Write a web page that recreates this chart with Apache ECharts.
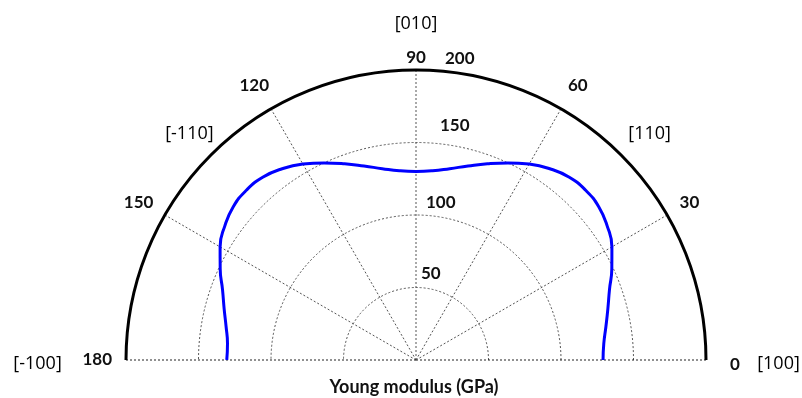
<!DOCTYPE html>
<html>
<head>
<meta charset="utf-8">
<script src="https://cdn.jsdelivr.net/npm/echarts@6/dist/echarts.min.js"></script>
<style>
  html, body { margin: 0; padding: 0; background: #fff; }
  #main { width: 802px; height: 398px; }
</style>
</head>
<body>
<div id="main"></div>
<script>
// 角度（度）
var angles = [0, 5, 10, 15, 20, 25, 30, 35, 40, 45, 50, 55, 60, 65, 70, 75, 80, 85, 90,
              95, 100, 105, 110, 115, 120, 125, 130, 135, 140, 145, 150, 155, 160, 165, 170, 175, 180];
// 杨氏模量 (GPa)
var modulus = [129, 130, 133, 137, 142, 149, 156, 161, 164.5, 165.5, 164.5, 161, 156, 150, 144, 138.5, 134, 131, 130,
               131, 134, 138.5, 144, 150, 156, 161, 164.5, 165.5, 164.5, 161, 156, 149, 142, 137, 133, 130.5, 130.5];
// 晶向标注
var dirNames = ['[100]', '[110]', '[010]', '[-110]', '[-100]'];
var dirAngles = [-0.6, 44, 90, 135, 180.6];
var dirRadius = [250, 224, 232, 221, 261];

var FONT = 'Lato';

var curveData = angles.map(function (a, i) { return [modulus[i], a]; });
var dirData = dirNames.map(function (n, i) { return [dirRadius[i], dirAngles[i], n]; });

// 标签微调（padding: 上 右 下 左）
function numStyle(pad) {
    return { padding: pad, color: '#111', fontFamily: FONT, fontWeight: 'bold', fontSize: 17 };
}
var angleRich = {
    a0: numStyle([10, 0, 0, 20]),
    a30: numStyle([0, 0, 2, 9]),
    a60: numStyle([0, 0, 11, 5]),
    a90: numStyle([0, 0, 0, 0]),
    a120: numStyle([0, 0, 11, 0]),
    a150: numStyle([0, 8, 2, 0]),
    a180: numStyle([0, 10, 0, 0])
};
var radiusRich = {
    r50: numStyle([0, 0, 5, 5]),
    r100: numStyle([0, 0, 4, 10]),
    r150: numStyle([0, 0, 8, 24]),
    r200: numStyle([0, 0, 3, 29])
};
var gridColors = ['#222', '#555', '#555', '#555', '#555', '#555', '#222'];

var chart = echarts.init(document.getElementById('main'));

var option = {
    backgroundColor: '#fff',
    animation: false,
    polar: [
        { center: [416, 360], radius: 290 },
        { center: [416, 360], radius: 290 }
    ],
    angleAxis: [
        {
            polarIndex: 0,
            type: 'value',
            min: 0,
            max: 180,
            interval: 30,
            startAngle: 0,
            endAngle: 180,
            clockwise: false,
            axisLine: { show: true, lineStyle: { color: '#000', width: 3 } },
            axisTick: { show: false },
            axisLabel: {
                margin: 4,
                formatter: function (v) { return '{a' + v + '|' + v + '}'; },
                rich: angleRich
            },
            splitLine: { show: true, lineStyle: { color: gridColors, width: 1, type: [2, 2] } }
        },
        {
            polarIndex: 1,
            type: 'value',
            min: 0,
            max: 360,
            startAngle: 90,
            show: false
        }
    ],
    radiusAxis: [
        {
            polarIndex: 0,
            type: 'value',
            min: 0,
            max: 200,
            interval: 50,
            axisLine: { show: false },
            axisTick: { show: false },
            axisLabel: { show: false },
            splitLine: { show: true, lineStyle: { color: '#555', width: 1, type: [2, 2] } }
        },
        {
            polarIndex: 1,
            type: 'value',
            min: 0,
            max: 200,
            interval: 50,
            axisLine: { show: false },
            axisTick: { show: false },
            splitLine: { show: false },
            axisLabel: {
                showMinLabel: false,
                margin: 0,
                align: 'left',
                verticalAlign: 'bottom',
                formatter: function (v) { return '{r' + v + '|' + v + '}'; },
                rich: radiusRich
            }
        }
    ],
    graphic: [{
        type: 'text',
        x: 414,
        y: 387,
        style: {
            text: 'Young modulus (GPa)',
            fill: '#111',
            font: 'bold 18px ' + FONT,
            align: 'center',
            verticalAlign: 'middle'
        }
    }],
    series: [
        {
            type: 'line',
            coordinateSystem: 'polar',
            polarIndex: 0,
            data: curveData,
            smooth: true,
            showSymbol: false,
            lineStyle: { color: '#0000ff', width: 3 },
            z: 5
        },
        {
            type: 'scatter',
            coordinateSystem: 'polar',
            polarIndex: 0,
            data: dirData,
            clip: false,
            symbolSize: 0,
            itemStyle: { opacity: 1 },
            label: {
                show: true,
                position: 'inside',
                formatter: function (p) { return p.data[2]; },
                color: '#000',
                opacity: 1,
                fontFamily: 'Open Sans',
                fontWeight: 500,
                fontSize: 18
            }
        }
    ]
};
chart.setOption(option);
</script>
</body>
</html>
